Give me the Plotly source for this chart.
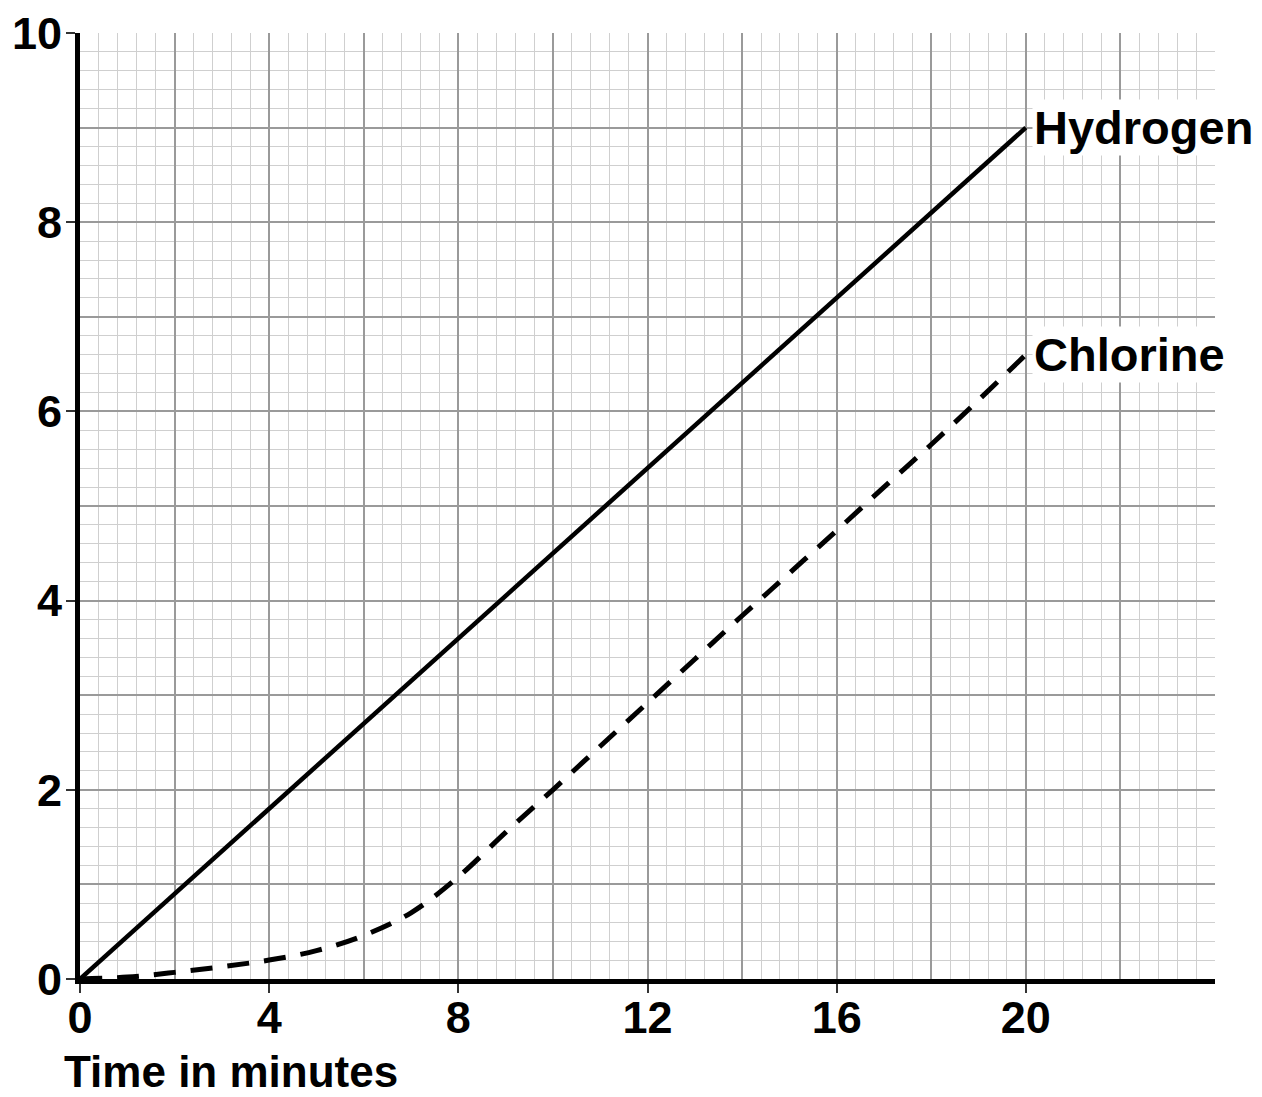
import plotly.graph_objects as go

# Data
time_h = [0, 20]
hydrogen = [0, 9]
time_c = [0, 1, 2, 3, 4, 5, 6, 7, 8, 9, 10, 11, 12, 13, 14, 15, 16, 17, 18, 19, 20]
chlorine = [0, 0.02, 0.07, 0.13, 0.2, 0.3, 0.46, 0.7, 1.08, 1.55, 2.0, 2.46, 2.92, 3.38, 3.84, 4.29, 4.74, 5.2, 5.65, 6.12, 6.6]
x_ticks = [0, 4, 8, 12, 16, 20]
y_ticks = [0, 2, 4, 6, 8, 10]
x_label = "Time in minutes"
series_names = ["Hydrogen", "Chlorine"]

FONT = "Liberation Sans, Arial, sans-serif"

fig = go.Figure()
fig.add_trace(go.Scatter(x=time_h, y=hydrogen, mode="lines",
                         line=dict(color="black", width=4.5), showlegend=False, hoverinfo="skip"))
fig.add_trace(go.Scatter(x=time_c, y=chlorine, mode="lines", line_shape="spline",
                         line=dict(color="black", width=5, dash="22px,15px"), showlegend=False, hoverinfo="skip"))

# invisible trace on overlay axes for tick labels
fig.add_trace(go.Scatter(x=[0], y=[0], xaxis="x2", yaxis="y2", mode="markers",
                         marker=dict(opacity=0), showlegend=False, hoverinfo="skip"))

fig.update_layout(
    width=1254, height=1089,
    margin=dict(l=72, r=47, t=25, b=118, autoexpand=False),
    plot_bgcolor="white", paper_bgcolor="white",
    xaxis=dict(range=[0, 24], dtick=2, tick0=0, showticklabels=False, ticks="",
               showgrid=True, gridcolor="#9a9a9a", gridwidth=1.6,
               minor=dict(dtick=0.4, tick0=0, showgrid=True, gridcolor="#cfcfcf", gridwidth=1.2),
               showline=False, zeroline=False, fixedrange=True, automargin=False),
    yaxis=dict(range=[0, 10], dtick=1, tick0=0, showticklabels=False, ticks="",
               showgrid=True, gridcolor="#9a9a9a", gridwidth=1.6,
               minor=dict(dtick=0.2, tick0=0, showgrid=True, gridcolor="#cfcfcf", gridwidth=1.2),
               showline=False, zeroline=False, fixedrange=True, automargin=False),
    xaxis2=dict(range=[0, 24], overlaying="x", anchor="y2", side="bottom",
                tickvals=x_ticks, ticktext=[str(v) for v in x_ticks],
                ticks="outside", ticklen=9, tickwidth=2, tickcolor="#333",
                ticklabelstandoff=-14, automargin=False, ticklabeloverflow="allow",
                tickfont=dict(family=FONT, size=45, color="black", weight="bold"),
                showgrid=False, zeroline=False, showline=True, linecolor="black", linewidth=5),
    yaxis2=dict(range=[0, 10], overlaying="y", anchor="x2", side="left",
                tickvals=y_ticks, ticktext=[str(v) for v in y_ticks],
                ticks="outside", ticklen=9, tickwidth=2, tickcolor="#333",
                ticklabelstandoff=-5, automargin=False, ticklabeloverflow="allow",
                tickfont=dict(family=FONT, size=45, color="black", weight="bold"),
                showgrid=False, zeroline=False, showline=True, linecolor="black", linewidth=5),
    annotations=[
        dict(x=20, y=9, xref="x", yref="y", text=series_names[0], showarrow=False,
             xanchor="left", yanchor="middle", xshift=6, bgcolor="white",
             font=dict(family=FONT, size=47, color="black", weight="bold")),
        dict(x=20, y=6.6, xref="x", yref="y", text=series_names[1], showarrow=False,
             xanchor="left", yanchor="middle", xshift=6, bgcolor="white",
             font=dict(family=FONT, size=47, color="black", weight="bold")),
        dict(x=0, y=0, xref="paper", yref="paper", text=x_label, showarrow=False,
             xanchor="left", yanchor="middle", xshift=-18, yshift=-92,
             font=dict(family=FONT, size=44, color="black", weight="bold")),
    ],
)

fig.write_html("out.html")
